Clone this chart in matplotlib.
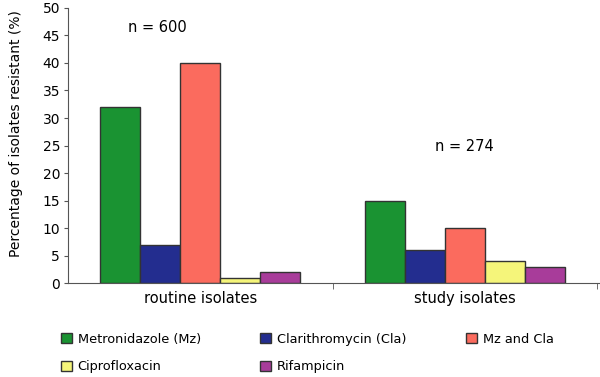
import matplotlib
matplotlib.use("Agg")
import matplotlib.pyplot as plt
import numpy as np

categories = ["routine isolates", "study isolates"]
series_names = ["Metronidazole (Mz)", "Clarithromycin (Cla)", "Mz and Cla", "Ciprofloxacin", "Rifampicin"]
metronidazole = [32, 15]
clarithromycin = [7, 6]
mz_and_cla = [40, 10]
ciprofloxacin = [1, 4]
rifampicin = [2, 3]
n_labels = ["n = 600", "n = 274"]

values = [metronidazole, clarithromycin, mz_and_cla, ciprofloxacin, rifampicin]
colors = ["#1a9332", "#232d8f", "#fb6b5e", "#f5f57a", "#a83c9a"]

fig = plt.figure(figsize=(6.0, 3.77), dpi=100)
ax = fig.add_axes([0.113, 0.249, 0.885, 0.730])

x = np.arange(len(categories))
w = 0.151
handles = []
for i, (vals, col, name) in enumerate(zip(values, colors, series_names)):
    b = ax.bar(x + (i - 2) * w, vals, w, color=col, edgecolor="#333333", linewidth=1.0, label=name)
    handles.append(b)

ax.set_xlim(-0.5, 1.505)
ax.set_ylim(0, 50)
ax.set_yticks(np.arange(0, 51, 5))
ax.set_xticks(x)
ax.set_xticklabels(categories, fontsize=10.5)
ax.set_xticks([0.5, 1.5], minor=True)
ax.tick_params(axis="x", which="major", length=0, pad=6)
ax.tick_params(axis="x", which="minor", length=4, color="#555555")
ax.tick_params(axis="y", labelsize=10, length=3, color="#555555", pad=2.5)
for s in ["top", "right"]:
    ax.spines[s].set_visible(False)
for s in ["left", "bottom"]:
    ax.spines[s].set_color("#555555")
ax.set_ylabel("Percentage of isolates resistant (%)", fontsize=10)
ax.yaxis.set_label_coords(-0.085, 0.542)

ax.text(-0.16, 46.5, n_labels[0], ha="center", va="center", fontsize=10.5)
ax.text(0.996, 24.9, n_labels[1], ha="center", va="center", fontsize=10.5)

order = [0, 3, 1, 4, 2]
leg = fig.legend([handles[i] for i in order], [series_names[i] for i in order],
                 ncol=3, loc="upper left", bbox_to_anchor=(0.082, 0.1485),
                 frameon=False, fontsize=9.3, handlelength=0.85, handleheight=0.85,
                 handletextpad=0.45, columnspacing=4.6, labelspacing=1.15)

fig.savefig("out.png", dpi=100)
